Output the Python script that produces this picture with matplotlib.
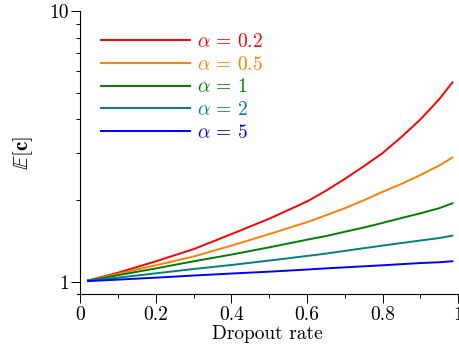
import numpy as np
import matplotlib
matplotlib.use("Agg")
from matplotlib import pyplot as plt
from matplotlib.ticker import FixedLocator, NullFormatter, MultipleLocator

plt.rcParams["font.family"] = "cmr10"
plt.rcParams["mathtext.fontset"] = "cm"
plt.rcParams["axes.formatter.use_mathtext"] = True

# values
dropout = [0.02, 0.1, 0.2, 0.3, 0.4, 0.5, 0.6, 0.65, 0.7, 0.75, 0.8, 0.85, 0.9, 0.95, 0.985]
alphas = ["0.2", "0.5", "1", "2", "5"]
e_c_02 = [1.01, 1.08, 1.19, 1.32, 1.50, 1.71, 1.98, 2.17, 2.40, 2.67, 2.99, 3.43, 3.98, 4.73, 5.46]
e_c_05 = [1.01, 1.07, 1.15, 1.24, 1.36, 1.50, 1.66, 1.76, 1.87, 2.00, 2.15, 2.30, 2.48, 2.69, 2.88]
e_c_1 = [1.01, 1.057, 1.12, 1.19, 1.26, 1.34, 1.43, 1.475, 1.53, 1.585, 1.65, 1.72, 1.79, 1.87, 1.95]
e_c_2 = [1.01, 1.035, 1.074, 1.114, 1.153, 1.197, 1.245, 1.27, 1.30, 1.33, 1.36, 1.39, 1.42, 1.45, 1.48]
e_c_5 = [1.005, 1.018, 1.035, 1.054, 1.072, 1.089, 1.109, 1.12, 1.13, 1.14, 1.15, 1.161, 1.172, 1.18, 1.19]
series = [e_c_02, e_c_05, e_c_1, e_c_2, e_c_5]
colors = ["#ff0000", "#ff8000", "#008000", "#008080", "#0000ff"]

fig = plt.figure(figsize=(4.59, 3.56), dpi=100)
ax = fig.add_axes([0.167, 0.174, 0.831, 0.794])

for a, vals, c in zip(alphas, series, colors):
    ax.plot(dropout, vals, color=c, lw=1.4, label=r"$\alpha\,=\,%s$" % a)

ax.set_yscale("log")
ax.set_xlim(-0.01, 1.0)
ax.set_ylim(0.9, 10)
ax.spines["top"].set_visible(False)
ax.spines["right"].set_visible(False)
ax.spines["left"].set_position(("data", 0))
for s in ["left", "bottom"]:
    ax.spines[s].set_linewidth(0.8)

ax.set_yticks([1, 10], ["1", "10"])
ax.yaxis.set_minor_locator(FixedLocator([2, 3, 4, 5, 6, 7, 8, 9]))
ax.yaxis.set_minor_formatter(NullFormatter())
ax.set_xticks([0, 0.2, 0.4, 0.6, 0.8, 1.0], ["0", "0.2", "0.4", "0.6", "0.8", "1"])
ax.xaxis.set_minor_locator(MultipleLocator(0.1))
ax.tick_params(which="major", length=6.5, width=0.7, labelsize=14, pad=2)
ax.tick_params(which="minor", length=3.2, width=0.7)

ax.set_xlabel("Dropout rate", fontsize=14, labelpad=1)
ax.set_ylabel(r"$\mathbb{E}[\mathbf{c}]$", fontsize=15, labelpad=10)

leg = ax.legend(loc="upper left", bbox_to_anchor=(0.063, 0.923), frameon=False,
                fontsize=14, handlelength=4.57, handletextpad=0.36,
                labelspacing=0.24, borderpad=0, borderaxespad=0,
                labelcolor="linecolor")

fig.savefig("out.png", dpi=100)
